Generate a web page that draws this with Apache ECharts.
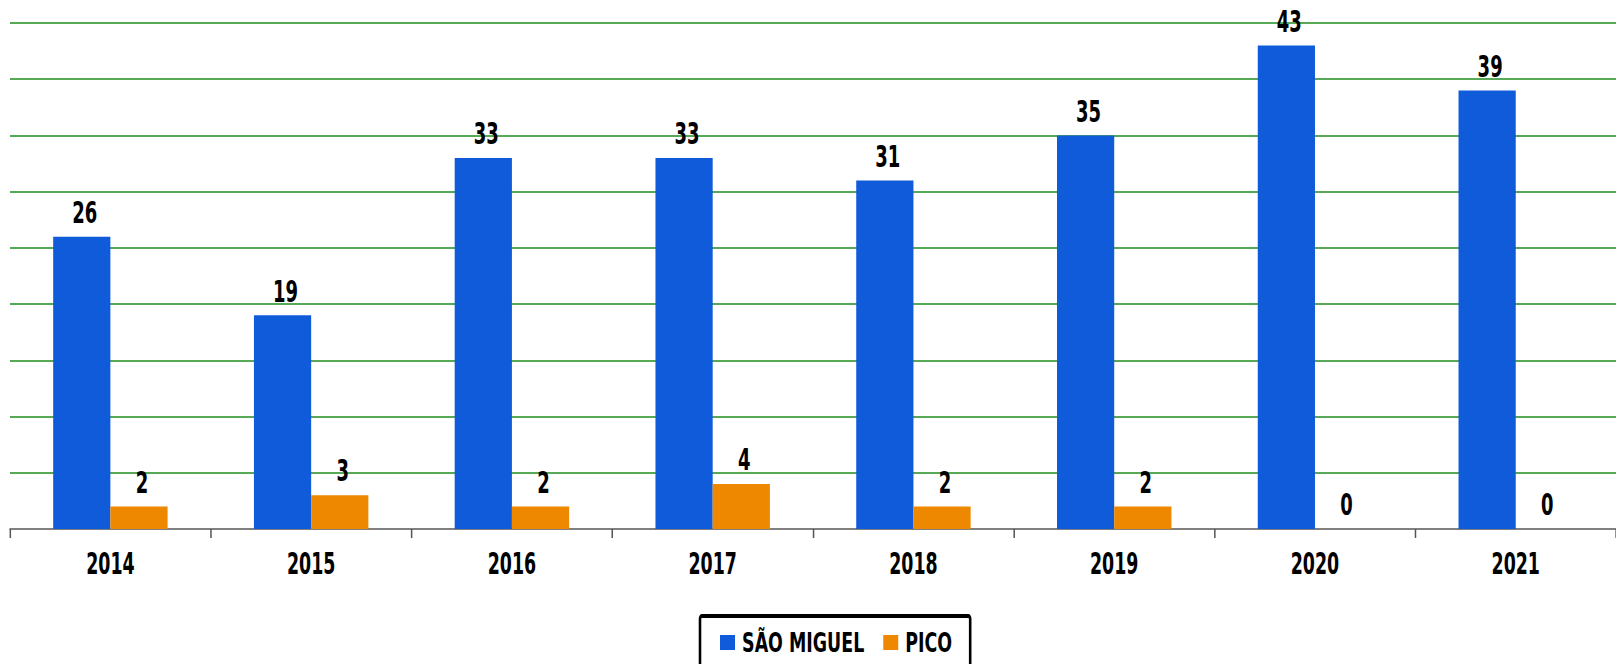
<!DOCTYPE html>
<html>
<head>
<meta charset="utf-8">
<script src="https://cdn.jsdelivr.net/npm/echarts@6/dist/echarts.min.js"></script>
<style>
html,body{margin:0;padding:0;background:#fff;overflow:hidden;}
#wrap{width:1616px;height:664px;overflow:hidden;position:relative;}
#chart{position:absolute;left:0;top:0;height:664px;transform-origin:0 0;}
</style>
</head>
<body>
<div id="wrap"><div id="chart"></div></div>
<script>
const categories = ['2014','2015','2016','2017','2018','2019','2020','2021'];
const saoMiguel = [26, 19, 33, 33, 31, 35, 43, 39];
const pico = [2, 3, 2, 4, 2, 2, 0, 0];
const seriesNames = ['SÃO MIGUEL', 'PICO'];

// Condensed-type look: chart is laid out wider and squeezed horizontally.
const K = 1.55;
const el = document.getElementById('chart');
el.style.width = Math.round(1616 * K) + 'px';
el.style.transform = 'scaleX(' + (1 / K) + ')';

const FONT = '"DejaVu Sans Condensed", "DejaVu Sans", sans-serif';
const chart = echarts.init(el, null, { renderer: 'svg' });
const valueLabel = {
  show: true,
  position: 'top',
  distance: 9,
  offset: [3 * K, 0],
  color: '#000',
  fontFamily: FONT,
  fontWeight: 'bold',
  fontSize: 31
};
chart.setOption({
  animation: false,
  grid: { left: 10 * K, right: -11 * K, top: 23, bottom: 135, containLabel: false },
  legend: {
    data: seriesNames,
    left: 700 * K,
    top: 616,
    icon: 'rect',
    itemWidth: 15 * K,
    itemHeight: 15,
    itemGap: 19 * K,
    borderColor: '#000',
    borderWidth: 4,
    borderRadius: 3,
    padding: [13, 18 * K, 13, 20 * K],
    textStyle: { color: '#000', fontFamily: '"DejaVu Sans", sans-serif', fontWeight: 'bold', fontSize: 27, padding: [0, 0, 0, 6] }
  },
  xAxis: {
    type: 'category',
    data: categories,
    axisLine: { lineStyle: { color: '#808080', width: 2 } },
    axisTick: { show: true, length: 9, lineStyle: { color: '#555', width: 1.5 * K } },
    axisLabel: { color: '#000', fontFamily: FONT, fontWeight: 'bold', fontSize: 30, margin: 20 }
  },
  yAxis: {
    type: 'value',
    min: 0,
    max: 45,
    interval: 5,
    axisLine: { show: false },
    axisTick: { show: false },
    axisLabel: { show: false },
    splitLine: { lineStyle: { color: '#1f8c1f', width: 1.5 } }
  },
  series: [
    {
      name: seriesNames[0],
      type: 'bar',
      data: saoMiguel,
      barGap: '0%',
      barCategoryGap: '43%',
      itemStyle: { color: '#0F5BDA' },
      label: valueLabel
    },
    {
      name: seriesNames[1],
      type: 'bar',
      data: pico,
      barGap: '0%',
      barCategoryGap: '43%',
      itemStyle: { color: '#EE8800' },
      label: valueLabel
    }
  ]
});
</script>
</body>
</html>
